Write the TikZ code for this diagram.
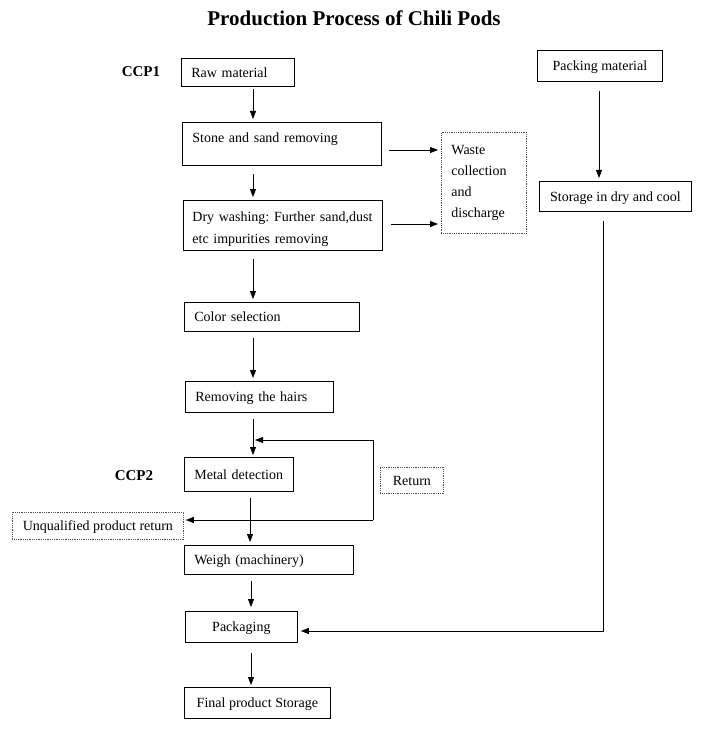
\documentclass[tikz,border=0pt]{standalone}
\usepackage{fontspec}
\setmainfont{Liberation Serif}
\usetikzlibrary{arrows.meta}
\frenchspacing
\begin{document}
\begin{tikzpicture}[x=1pt,y=-1pt,
  every node/.style={font=\fontsize{14}{21}\selectfont},
  sl/.style={text height=9.5pt, text depth=0pt},
  box/.style={draw, line width=0.8pt, anchor=north west, inner ysep=0pt, inner xsep=10pt, align=left},
  cbox/.style={draw, line width=0.8pt, anchor=north west, inner sep=0pt, align=center, sl},
  dbox/.style={draw=black!70, densely dotted, line width=0.8pt, anchor=north west, inner sep=0pt, align=center},
  arr/.style={-{Triangle[length=8pt,width=6pt]}, line width=0.8pt},
  ccp/.style={font=\fontsize{15}{18}\selectfont\bfseries}
]
\useasboundingbox (0,0) rectangle (704,730);
\node[font=\fontsize{21}{24}\selectfont\bfseries] (title) at (354,18) {Production Process of Chili Pods};
\node[ccp] (ccp1) at (141,72) {CCP1};
\node[ccp] (ccp2) at (134,476) {CCP2};

\node[box, sl, minimum width=113pt, minimum height=28pt, text width=93pt] (raw) at (181,58) {Raw material};
\node[box, text height=9.5pt, text depth=12pt, minimum width=199pt, minimum height=43pt, text width=179pt] (stone) at (182,122) {Stone and sand removing};
\node[box, minimum width=199pt, minimum height=50pt, inner xsep=9pt, text width=181pt, font=\fontsize{14}{22}\selectfont] (dry) at (183,200) {\rule{0pt}{17.5pt}Dry washing: Further sand,dust\\etc impurities removing};
\node[box, sl, minimum width=175pt, minimum height=29pt, text width=155pt] (color) at (184,302) {Color selection};
\node[box, sl, minimum width=148pt, minimum height=31pt, text width=128pt] (hairs) at (185,381) {Removing the hairs};
\node[box, sl, minimum width=109pt, minimum height=34pt, text width=89pt] (metal) at (184,457) {Metal detection};
\node[box, sl, minimum width=169pt, minimum height=29pt, text width=149pt] (weigh) at (184,545) {Weigh (machinery)};
\node[cbox, minimum width=112pt, minimum height=31pt] (pack) at (185,611) {Packaging};
\node[cbox, minimum width=146pt, minimum height=31pt] (final) at (184,687) {Final product Storage};
\node[cbox, minimum width=125pt, minimum height=31pt] (pmat) at (537,50) {Packing material};
\node[cbox, minimum width=152pt, minimum height=30pt] (store) at (539,181) {Storage in dry and cool};
\node[dbox, minimum width=85pt, minimum height=101pt, inner xsep=10pt, text width=65pt, align=left] (waste) at (441,132) {Waste\\collection\\and\\discharge};
\node[dbox, sl, minimum width=63pt, minimum height=26pt] (ret) at (380,467) {Return};
\node[dbox, sl, minimum width=171pt, minimum height=27pt] (unq) at (12,512) {Unqualified product return};

\coordinate (ca) at (253,0);
\coordinate (cm) at (250,0);
\coordinate (cp) at (251,0);
\coordinate (cpm) at (599,0);
\coordinate (cst) at (603,0);
\coordinate (rt) at (373,440);
\coordinate (rb) at (373,520);
\coordinate (rend) at (255,440);
\coordinate (sc) at (603,631);
\coordinate (w1) at (0,150);
\coordinate (w2) at (0,224);

\draw[arr, shorten <=2pt, shorten >=3pt] (raw.south -| ca) -- (stone.north -| ca);
\draw[arr, shorten <=8pt, shorten >=3pt] (stone.south -| ca) -- (dry.north -| ca);
\draw[arr, shorten <=8pt, shorten >=3pt] (dry.south -| ca) -- (color.north -| ca);
\draw[arr, shorten <=6pt, shorten >=3pt] (color.south -| ca) -- (hairs.north -| ca);
\draw[arr, shorten <=6pt, shorten >=2pt] (hairs.south -| ca) -- (metal.north -| ca);
\draw[arr, shorten <=6pt, shorten >=3pt] (metal.south -| cm) -- (weigh.north -| cm);
\draw[arr, shorten <=6pt, shorten >=4pt] (weigh.south -| cp) -- (pack.north -| cp);
\draw[arr, shorten <=10pt, shorten >=2pt] (pack.south -| cp) -- (final.north -| cp);

\draw[arr, shorten <=7pt, shorten >=3pt] (stone.east |- w1) -- (waste.west |- w1);
\draw[arr, shorten <=8pt, shorten >=3pt] (dry.east |- w2) -- (waste.west |- w2);

\draw[arr, shorten <=9pt, shorten >=3pt] (pmat.south -| cpm) -- (store.north -| cpm);
\draw[arr, shorten >=3pt] ([yshift=-9pt]store.south -| cst) -- (sc) -- (pack.east |- sc);

\draw[arr] (rb) -- (rt) -- (rend);
\draw[arr, shorten >=2pt] (rb) -- (unq.east |- rb);
\end{tikzpicture}
\end{document}
